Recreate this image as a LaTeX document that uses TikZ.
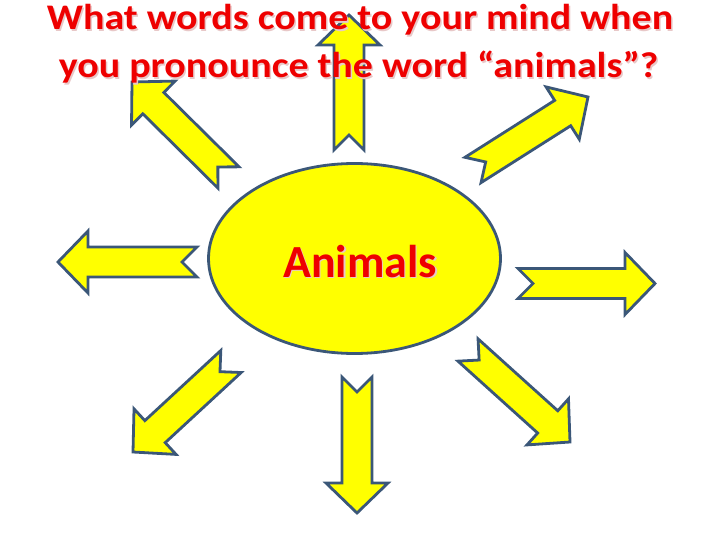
\documentclass[tikz,border=0pt]{standalone}
\usepackage{fontspec}
\setmainfont{Carlito}
\usetikzlibrary{calc,shapes.geometric}
\definecolor{edge}{RGB}{59,87,120}
\definecolor{ttl}{RGB}{238,0,0}
\definecolor{shd}{RGB}{232,200,200}
\definecolor{sun}{RGB}{255,255,0}
\tikzset{
  arrowbody/.style={draw=edge, fill=sun, line width=2.8pt, line join=miter},
  ttltext/.style={font=\bfseries\fontsize{36}{40}\selectfont, text=ttl, anchor=base, inner sep=0pt},
  ttlshadow/.style={font=\bfseries\fontsize{36}{40}\selectfont, text=shd, anchor=base, inner sep=0pt},
}
\newcommand\wide[1]{\scalebox{1.11}[1]{#1}}
\newcommand\notcharrow[3]{% name, tail, tip
  \coordinate (#1h) at ($(#3)!30pt!(#2)$);
  \coordinate (#1n) at ($(#2)!15pt!(#3)$);
  \draw[arrowbody] ($(#2)!15pt!90:(#3)$) -- (#1n) -- ($(#2)!15pt!-90:(#3)$)
     -- ($(#1h)!15pt!-90:(#3)$) -- ($(#1h)!31pt!-90:(#3)$) -- (#3)
     -- ($(#1h)!31pt!90:(#3)$) -- ($(#1h)!15pt!90:(#3)$) -- cycle;
}
\begin{document}
\begin{tikzpicture}[x=1pt,y=-1pt]
\useasboundingbox (0,0) rectangle (720,540);
% tails and tips
\coordinate (upT) at (349,150);   \coordinate (upP) at (349,15);
\coordinate (lfT) at (197,262);   \coordinate (lfP) at (58,262);
\coordinate (rtT) at (518,283.5); \coordinate (rtP) at (655,283.5);
\coordinate (dnT) at (357,377);   \coordinate (dnP) at (357,513);
\coordinate (ulT) at (228.5,177.5); \coordinate (ulP) at (132,82);
\coordinate (urT) at (473,170);   \coordinate (urP) at (588,97);
\coordinate (llT) at (231,361.5); \coordinate (llP) at (133,452);
\coordinate (lrT) at (468,350);   \coordinate (lrP) at (570,442);
\notcharrow{up}{upT}{upP}
\notcharrow{lf}{lfT}{lfP}
\notcharrow{rt}{rtT}{rtP}
\notcharrow{dn}{dnT}{dnP}
\notcharrow{ul}{ulT}{ulP}
\notcharrow{ur}{urT}{urP}
\notcharrow{ll}{llT}{llP}
\notcharrow{lr}{lrT}{lrP}
% centre
\node[ellipse, draw=edge, fill=sun, line width=2.8pt, minimum width=292pt, minimum height=190pt] (centre) at (354.5,258.5) {};
\node[font=\bfseries\fontsize{46}{50}\selectfont, text=shd, anchor=base, inner sep=0pt] (animshadow) at (361.5,278.5) {Animals};
\node[font=\bfseries\fontsize{46}{50}\selectfont, text=ttl, anchor=base, inner sep=0pt] (anim) at (360,277) {Animals};
% title
\node[ttlshadow] (t1s) at (361.5,31.5) {\wide{What words come to your mind when}};
\node[ttlshadow] (t2s) at (360,79.5) {\wide{you pronounce the word “animals”?}};
\node[ttltext] (t1) at (360,30) {\wide{What words come to your mind when}};
\node[ttltext] (t2) at (358.5,78) {\wide{you pronounce the word “animals”?}};
\end{tikzpicture}
\end{document}
